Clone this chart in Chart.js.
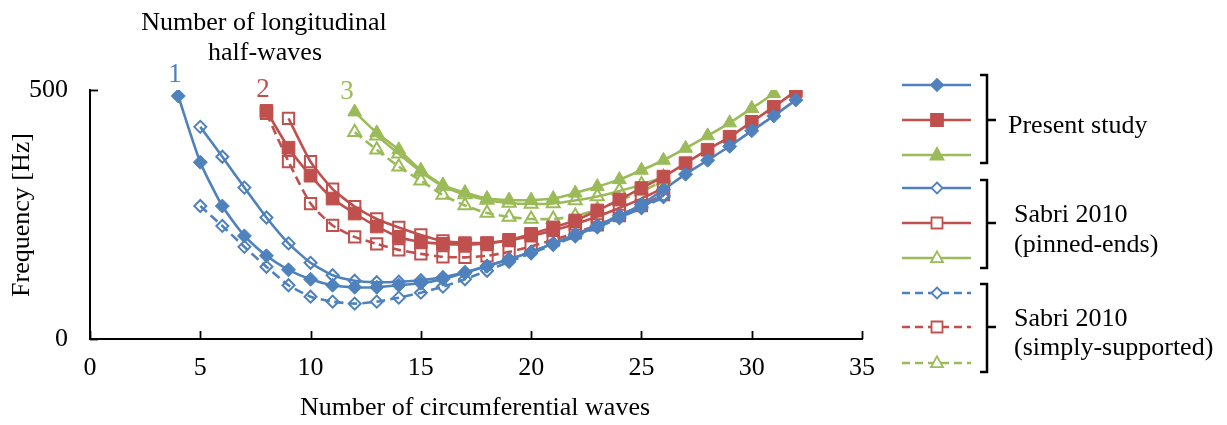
<!DOCTYPE html>
<html>
<head>
<meta charset="utf-8">
<script src="https://cdn.jsdelivr.net/npm/chart.js@4.4.1/dist/chart.umd.min.js"></script>
<style>
html, body { margin: 0; padding: 0; background: #fff; }
#wrap { width: 1227px; height: 425px; }
</style>
</head>
<body>
<div id="wrap"><canvas id="freqChart" width="1227" height="425"></canvas></div>
<script>
// Circumferential wave numbers and frequencies [Hz], per longitudinal half-wave count
const wavesP1 = [4, 5, 6, 7, 8, 9, 10, 11, 12, 13, 14, 15, 16, 17, 18, 19, 20, 21, 22, 23, 24, 25, 26, 27, 28, 29, 30, 31, 32];
const freqP1  = [488, 355, 267, 207, 167, 139, 120, 108, 104, 104, 108, 112, 120, 133, 147, 160, 175, 192, 210, 228, 248, 270, 300, 331, 359, 387, 418, 448, 480];
const wavesP2 = [8, 9, 10, 11, 12, 13, 14, 15, 16, 17, 18, 19, 20, 21, 22, 23, 24, 25, 26, 27, 28, 29, 30, 31, 32];
const freqP2  = [458, 384, 328, 282, 252, 226, 205, 195, 191, 190, 192, 199, 211, 224, 238, 258, 280, 303, 326, 353, 380, 406, 436, 466, 498];
const wavesP3 = [12, 13, 14, 15, 16, 17, 18, 19, 20, 21, 22, 23, 24, 25, 26, 27, 28, 29, 30, 31];
const freqP3  = [456, 414, 380, 339, 309, 294, 282, 279, 279, 282, 293, 306, 320, 339, 359, 383, 408, 434, 463, 493];

// Sabri 2010, pinned ends
const wavesPin1 = [5, 6, 7, 8, 9, 10, 11, 12, 13, 14, 15, 16, 17, 18, 19, 20, 21, 22, 23, 24, 25, 26];
const freqPin1  = [426, 366, 304, 244, 192, 153, 128, 117, 114, 115, 118, 124, 134, 146, 160, 175, 191, 208, 226, 245, 265, 288];
const wavesPin2 = [9, 10, 11, 12, 13, 14, 15, 16, 17, 18, 19, 20, 21, 22, 23, 24, 25, 26];
const freqPin2  = [443, 356, 301, 266, 241, 224, 209, 197, 193, 193, 198, 207, 218, 231, 246, 263, 282, 303];
const wavesPin3 = [13, 14, 15, 16, 17, 18, 19, 20, 21, 22, 23, 24, 25, 26];
const freqPin3  = [408, 372, 336, 307, 290, 279, 273, 271, 272, 278, 286, 297, 310, 325];

// Sabri 2010, simply supported
const wavesSS1 = [5, 6, 7, 8, 9, 10, 11, 12, 13, 14, 15, 16, 17, 18, 19, 20, 21, 22, 23, 24, 25, 26];
const freqSS1  = [267, 227, 185, 145, 108, 85, 75, 71, 75, 83, 93, 105, 120, 137, 155, 172, 189, 206, 224, 243, 263, 285];
const wavesSS2 = [8, 9, 10, 11, 12, 13, 14, 15, 16, 17, 18, 19, 20, 21, 22, 23, 24, 25, 26];
const freqSS2  = [453, 356, 272, 228, 205, 191, 179, 171, 165, 164, 167, 175, 186, 199, 213, 229, 248, 268, 290];
const wavesSS3 = [12, 13, 14, 15, 16, 17, 18, 19, 20, 21, 22, 23, 24, 25, 26];
const freqSS3  = [415, 380, 346, 318, 289, 268, 253, 245, 241, 241, 247, 260, 278, 296, 318];

const xTicks = [0, 5, 10, 15, 20, 25, 30, 35];
const yTicks = [0, 500];

const BLUE = '#4f81bd', RED = '#c0504d', GREEN = '#9bbb59';
const FONT = '"Liberation Serif", "Times New Roman", serif';

function pts(xs, ys) {
    return xs.map((x, i) => ({ x: x, y: ys[i] }));
}

function series(label, xs, ys, color, shape, radius, filled, dashed) {
    return {
        label: label,
        data: pts(xs, ys),
        borderColor: color,
        borderWidth: 2.6,
        borderDash: dashed ? [9, 5] : [],
        pointStyle: shape,
        pointRadius: radius,
        pointHoverRadius: radius,
        pointBackgroundColor: filled ? color : 'rgba(255,255,255,0)',
        pointBorderColor: color,
        pointBorderWidth: filled ? 1 : 2,
        tension: 0.2,
        fill: false
    };
}

// small marker used in the legend column
function drawMarker(ctx, shape, x, y, r, color, filled) {
    ctx.beginPath();
    if (shape === 'rectRot') {
        ctx.moveTo(x, y - r); ctx.lineTo(x + r, y); ctx.lineTo(x, y + r); ctx.lineTo(x - r, y);
    } else if (shape === 'rect') {
        ctx.rect(x - r, y - r, 2 * r, 2 * r);
    } else {
        ctx.moveTo(x, y - r * 1.1); ctx.lineTo(x + r, y + r * 0.7); ctx.lineTo(x - r, y + r * 0.7);
    }
    ctx.closePath();
    ctx.fillStyle = filled ? color : '#fff';
    ctx.fill();
    ctx.lineWidth = 1.8;
    ctx.strokeStyle = color;
    ctx.stroke();
}

const legendRows = [
    { y: 85,  color: BLUE,  shape: 'rectRot',  r: 6, filled: true,  dashed: false },
    { y: 120, color: RED,   shape: 'rect',     r: 6, filled: true,  dashed: false },
    { y: 155, color: GREEN, shape: 'triangle', r: 6.5, filled: true,  dashed: false },
    { y: 188, color: BLUE,  shape: 'rectRot',  r: 5.5, filled: false, dashed: false },
    { y: 223, color: RED,   shape: 'rect',     r: 5.5, filled: false, dashed: false },
    { y: 258, color: GREEN, shape: 'triangle', r: 6, filled: false, dashed: false },
    { y: 293, color: BLUE,  shape: 'rectRot',  r: 5.5, filled: false, dashed: true },
    { y: 327, color: RED,   shape: 'rect',     r: 5.5, filled: false, dashed: true },
    { y: 363, color: GREEN, shape: 'triangle', r: 6, filled: false, dashed: true }
];

const brackets = [
    { top: 75,  bottom: 163, mid: 120, lines: [['Present study', 1008, 133]] },
    { top: 180, bottom: 268, mid: 223, lines: [['Sabri 2010', 1014, 222], ['(pinned-ends)', 1014, 252]] },
    { top: 284, bottom: 372, mid: 327, lines: [['Sabri 2010', 1014, 326], ['(simply-supported)', 1014, 355]] }
];

const decorations = {
    id: 'decorations',
    afterDraw(chart) {
        const ctx = chart.ctx;
        const xs = chart.scales.x, ys = chart.scales.y;
        ctx.save();

        // tick marks point into the plot area
        ctx.strokeStyle = '#000';
        ctx.lineWidth = 1.8;
        xs.ticks.forEach(t => {
            const px = Math.round(xs.getPixelForValue(t.value)) + 0.5;
            ctx.beginPath(); ctx.moveTo(px, ys.bottom); ctx.lineTo(px, ys.bottom - 8); ctx.stroke();
        });
        ys.ticks.forEach(t => {
            const py = Math.round(ys.getPixelForValue(t.value)) + 0.5;
            ctx.beginPath(); ctx.moveTo(xs.left, py); ctx.lineTo(xs.left + 8, py); ctx.stroke();
        });

        // axis titles
        ctx.fillStyle = '#000';
        ctx.font = '26px ' + FONT;
        ctx.textAlign = 'center';
        ctx.textBaseline = 'middle';
        ctx.fillText('Number of circumferential waves', 475, 408);
        ctx.save();
        ctx.translate(22, 215);
        ctx.rotate(-Math.PI / 2);
        ctx.fillText('Frequency [Hz]', 0, 0);
        ctx.restore();

        // half-wave annotation
        ctx.textBaseline = 'alphabetic';
        ctx.fillText('Number of longitudinal', 264, 30);
        ctx.fillText('half-waves', 265, 60);
        ctx.font = '27px ' + FONT;
        ctx.fillStyle = BLUE;  ctx.fillText('1', 175, 82);
        ctx.fillStyle = RED;   ctx.fillText('2', 263, 97);
        ctx.fillStyle = GREEN; ctx.fillText('3', 347, 99);
        ctx.font = '26px ' + FONT;

        // legend lines with markers
        legendRows.forEach(row => {
            ctx.strokeStyle = row.color;
            ctx.lineWidth = 2.4;
            ctx.setLineDash(row.dashed ? [8, 5] : []);
            ctx.beginPath(); ctx.moveTo(902, row.y); ctx.lineTo(971, row.y); ctx.stroke();
            ctx.setLineDash([]);
            drawMarker(ctx, row.shape, 937, row.y, row.r, row.color, row.filled);
        });

        // brackets and group names
        ctx.strokeStyle = '#000';
        ctx.lineWidth = 2.5;
        ctx.fillStyle = '#000';
        ctx.textAlign = 'left';
        brackets.forEach(b => {
            ctx.beginPath();
            ctx.moveTo(980, b.top); ctx.lineTo(987, b.top); ctx.lineTo(987, b.bottom); ctx.lineTo(980, b.bottom);
            ctx.moveTo(987, b.mid); ctx.lineTo(996, b.mid);
            ctx.stroke();
            b.lines.forEach(l => ctx.fillText(l[0], l[1], l[2]));
        });

        ctx.restore();
    }
};

new Chart(document.getElementById('freqChart'), {
    type: 'line',
    data: {
        datasets: [
            series('Present study, 1', wavesP1, freqP1, BLUE, 'rectRot', 7, true, false),
            series('Present study, 2', wavesP2, freqP2, RED, 'rect', 9, true, false),
            series('Present study, 3', wavesP3, freqP3, GREEN, 'triangle', 8, true, false),
            series('Sabri 2010 pinned-ends, 1', wavesPin1, freqPin1, BLUE, 'rectRot', 6, false, false),
            series('Sabri 2010 pinned-ends, 2', wavesPin2, freqPin2, RED, 'rect', 8, false, false),
            series('Sabri 2010 pinned-ends, 3', wavesPin3, freqPin3, GREEN, 'triangle', 7.5, false, false),
            series('Sabri 2010 simply-supported, 1', wavesSS1, freqSS1, BLUE, 'rectRot', 6, false, true),
            series('Sabri 2010 simply-supported, 2', wavesSS2, freqSS2, RED, 'rect', 8, false, true),
            series('Sabri 2010 simply-supported, 3', wavesSS3, freqSS3, GREEN, 'triangle', 7.5, false, true)
        ]
    },
    options: {
        responsive: false,
        animation: false,
        layout: { padding: { left: 0, top: 90, right: 365, bottom: 0 } },
        plugins: {
            legend: { display: false },
            tooltip: { enabled: false }
        },
        scales: {
            x: {
                type: 'linear',
                min: 0,
                max: 35,
                afterBuildTicks: s => { s.ticks = xTicks.map(v => ({ value: v })); },
                afterFit: s => { s.height = 86; },
                grid: { display: false, drawTicks: false },
                border: { display: true, color: '#000', width: 2 },
                ticks: { color: '#000', padding: 14, font: { family: FONT, size: 26 } }
            },
            y: {
                type: 'linear',
                min: 0,
                max: 500,
                afterBuildTicks: s => { s.ticks = yTicks.map(v => ({ value: v })); },
                afterFit: s => { s.width = 90; },
                grid: { display: false, drawTicks: false },
                border: { display: true, color: '#000', width: 2 },
                ticks: { color: '#000', padding: 22, font: { family: FONT, size: 26 } }
            }
        }
    },
    plugins: [decorations]
});
</script>
</body>
</html>
